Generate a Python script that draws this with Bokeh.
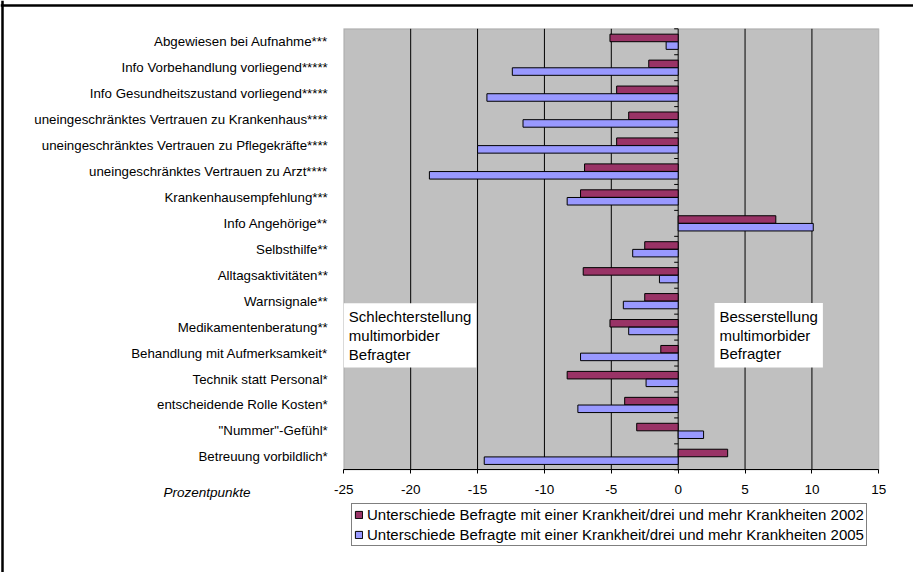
from bokeh.plotting import figure
from bokeh.models import (ColumnDataSource, Range1d, FixedTicker, Legend, LegendItem, Label,
                          LinearAxis, BoxAnnotation, Span)
from bokeh.transform import dodge
from bokeh.embed import file_html
from bokeh.resources import INLINE
import numpy as np

categories = [
    "Abgewiesen bei Aufnahme***",
    "Info Vorbehandlung vorliegend*****",
    "Info Gesundheitszustand vorliegend*****",
    "uneingeschränktes Vertrauen zu Krankenhaus****",
    "uneingeschränktes Vertrauen zu Pflegekräfte****",
    "uneingeschränktes Vertrauen zu Arzt****",
    "Krankenhausempfehlung***",
    "Info Angehörige**",
    "Selbsthilfe**",
    "Alltagsaktivitäten**",
    "Warnsignale**",
    "Medikamentenberatung**",
    "Behandlung mit Aufmerksamkeit*",
    "Technik statt Personal*",
    "entscheidende Rolle Kosten*",
    "\"Nummer\"-Gefühl*",
    "Betreuung vorbildlich*",
]
values_2002 = [-5.1, -2.2, -4.6, -3.7, -4.6, -7.0, -7.3, 7.3, -2.5, -7.1, -2.5, -5.1, -1.3, -8.3, -4.0, -3.1, 3.7]
values_2005 = [-0.9, -12.4, -14.3, -11.6, -15.0, -18.6, -8.3, 10.1, -3.4, -1.4, -4.1, -3.7, -7.3, -2.4, -7.5, 1.9, -14.5]
x_ticks = [-25, -20, -15, -10, -5, 0, 5, 10, 15]
series_labels = [
    "Unterschiede Befragte mit einer Krankheit/drei und mehr Krankheiten 2002",
    "Unterschiede Befragte mit einer Krankheit/drei und mehr Krankheiten 2005",
]
colors = ["#993366", "#9999FF"]
axis_title = "Prozentpunkte"
box_left = "Schlechterstellung\nmultimorbider\nBefragter"
box_right = "Besserstellung\nmultimorbider\nBefragter"

FONT = "Liberation Sans"
n = len(categories)
ypos = list(range(n))

# ---- layout (pixel positions of the plot area on the page) ----
W, H = 913, 572
PLOT_L, PLOT_R, PLOT_T, PLOT_B = 343.3, 878.3, 28.3, 469.3
X0, X1 = x_ticks[0], x_ticks[-1]
Y_TOP, Y_BOT = -0.5, n - 0.5
SX = (PLOT_R - PLOT_L) / (X1 - X0)
SY = (PLOT_B - PLOT_T) / (Y_BOT - Y_TOP)


def px_x(px):
    return X0 + (px - PLOT_L) / SX


def px_y(py):
    return Y_TOP + (py - PLOT_T) / SY


src = ColumnDataSource(dict(y=ypos, v1=values_2002, v2=values_2005))

p = figure(width=W, height=H, output_backend="svg", toolbar_location=None,
           x_range=Range1d(px_x(0), px_x(W)), y_range=Range1d(px_y(H), px_y(0)),
           x_axis_location=None, y_axis_location=None, min_border=0)
p.outline_line_color = None
p.background_fill_color = "white"
p.border_fill_color = "white"
p.xgrid.visible = False
p.ygrid.visible = False

# plot area
p.add_layout(BoxAnnotation(left=X0, right=X1, top=Y_TOP, bottom=Y_BOT, fill_color="#C0C0C0",
                           fill_alpha=1, line_color="#808080", line_width=1.5, level="underlay"))

# vertical grid lines
grid_x = x_ticks[1:-1]
p.segment(x0=grid_x, x1=grid_x, y0=[Y_TOP] * len(grid_x), y1=[Y_BOT] * len(grid_x),
          line_color="black", line_width=1)

r1 = p.hbar(y=dodge("y", -0.148), left=0, right="v1", height=0.29, source=src,
            fill_color=colors[0], line_color="black", line_width=1)
r2 = p.hbar(y=dodge("y", 0.148), left=0, right="v2", height=0.29, source=src,
            fill_color=colors[1], line_color="black", line_width=1)

# category tick marks on zero axis
bounds = [i - 0.5 for i in range(n + 1)]
p.ray(x=[0] * len(bounds), y=bounds, length=4, length_units="screen", angle=np.pi,
      line_color="black", line_width=1)

xa = LinearAxis(fixed_location=Y_BOT, bounds=(X0, X1))
xa.ticker = FixedTicker(ticks=x_ticks)
xa.major_label_overrides = {t: str(t) for t in x_ticks}
xa.major_tick_out = 4
xa.major_tick_in = 0
xa.minor_tick_line_color = None
xa.axis_line_color = "black"
xa.major_tick_line_color = "black"
xa.major_label_text_font = FONT
xa.major_label_text_font_size = "13.5px"
xa.major_label_text_color = "black"
xa.major_label_standoff = 11
p.add_layout(xa, "below")

ya = LinearAxis(fixed_location=X0)
ya.ticker = FixedTicker(ticks=ypos)
ya.major_label_overrides = {i: c for i, c in zip(ypos, categories)}
ya.axis_line_color = None
ya.major_tick_line_color = None
ya.minor_tick_line_color = None
ya.major_label_text_font = FONT
ya.major_label_text_font_size = "13.3px"
ya.major_label_text_color = "black"
ya.major_label_standoff = 10
p.add_layout(ya, "left")

legend = Legend(items=[LegendItem(label=series_labels[0], renderers=[r1]),
                       LegendItem(label=series_labels[1], renderers=[r2])],
                location=(351, 26), orientation="vertical",
                label_text_font=FONT, label_text_font_size="15px", label_text_color="black",
                glyph_width=9, glyph_height=9, label_standoff=4,
                label_height=16, spacing=3, padding=2, margin=0,
                border_line_color="black", border_line_width=1,
                background_fill_color="white", background_fill_alpha=1)
p.add_layout(legend, "center")

p.add_layout(Label(x=px_x(250), y=px_y(492), text=axis_title, text_color="black",
                   text_font=FONT, text_font_size="13.5px", text_font_style="italic",
                   text_align="right", text_baseline="middle"))

p.add_layout(Label(x=X0, y=px_y(302.7), text=box_left, text_font=FONT, text_font_size="15px",
                   text_color="black", text_align="left", text_baseline="top", text_line_height=1.1,
                   background_fill_color="white", padding=5))
p.add_layout(Label(x=px_x(714), y=px_y(302.5), text=box_right, text_font=FONT, text_font_size="15px",
                   text_color="black", text_align="left", text_baseline="top", text_line_height=1.1,
                   background_fill_color="white", padding=5))

# outer chart frame
p.add_layout(Span(location=px_y(5), dimension="width", line_color="black", line_width=2.5))
p.add_layout(Span(location=px_x(2), dimension="height", line_color="black", line_width=2.5))

open("out.html", "w").write(file_html(p, INLINE))
